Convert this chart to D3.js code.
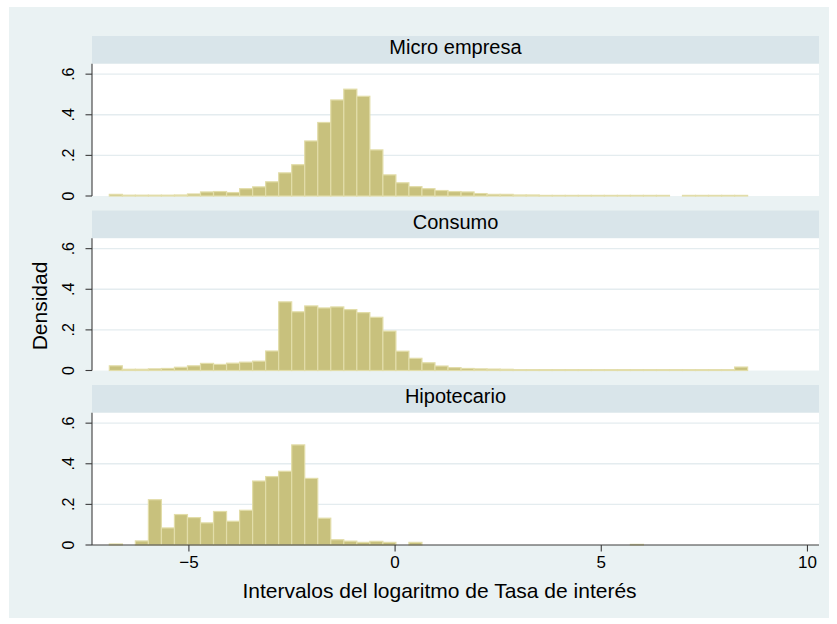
<!DOCTYPE html>
<meta charset="utf-8">
<style>
body { margin: 0; background: #fff; }
text { font-family: "Liberation Sans", Arial, sans-serif; fill: #000; }
.grid { stroke: #e4ecef; stroke-width: 1.3px; }
.bar { fill: #c8c17d; stroke: #e2dda9; stroke-width: 1.2px; }
.axis { stroke: #3c3c3c; stroke-width: 1.1px; fill: none; }
</style>
<body>
<svg id="chart" width="837" height="624"></svg>
<script src="https://d3js.org/d3.v7.min.js"></script>
<script>

// panels (Stata by())
const categories = ["Micro empresa", "Consumo", "Hipotecario"]

// common histogram bins: lower edge of first bin and bin width
const binStart = -6.93
const binWidth = 0.3159

// densities per bin
const microEmpresa = [0.008, 0.004, 0.004, 0.004, 0.004, 0.005, 0.010, 0.020, 0.022, 0.017,
  0.036, 0.045, 0.070, 0.114, 0.154, 0.271, 0.362, 0.473, 0.526, 0.491,
  0.227, 0.104, 0.065, 0.046, 0.036, 0.027, 0.022, 0.020, 0.012, 0.008,
  0.008, 0.005, 0.005, 0.003, 0.003, 0.003, 0.003, 0.003, 0.003, 0.003,
  0.003, 0.003, 0.003, 0, 0.003, 0.003, 0.003, 0.003, 0.003]

const consumo = [0.023, 0.006, 0.006, 0.008, 0.010, 0.016, 0.023, 0.035, 0.030, 0.036,
  0.041, 0.046, 0.096, 0.338, 0.289, 0.318, 0.308, 0.313, 0.300, 0.285,
  0.262, 0.194, 0.095, 0.060, 0.038, 0.022, 0.014, 0.010, 0.008, 0.007,
  0.006, 0.004, 0.004, 0.004, 0.004, 0.004, 0.004, 0.004, 0.004, 0.004,
  0.004, 0.004, 0.004, 0.004, 0.004, 0.004, 0.004, 0.004, 0.017]

const hipotecario = [0.005, 0, 0.020, 0.223, 0.084, 0.150, 0.135, 0.109, 0.165, 0.117,
  0.171, 0.315, 0.337, 0.363, 0.493, 0.328, 0.132, 0.026, 0.019, 0.013,
  0.018, 0.013, 0, 0.013, 0, 0, 0, 0, 0, 0,
  0, 0, 0, 0, 0, 0, 0, 0, 0, 0,
  0.003, 0, 0, 0, 0, 0, 0, 0, 0]

const xTicks = [-5, 0, 5, 10]
const yTicks = [0, 0.2, 0.4, 0.6]
const yTickLabels = ["0", ".2", ".4", ".6"]

const xTitle = "Intervalos del logaritmo de Tasa de interés"
const yTitle = "Densidad"

const series = [microEmpresa, consumo, hipotecario]

const svg = d3.select("#chart")

// outer graph region
svg.append("rect")
  .attr("x", 9).attr("y", 7).attr("width", 820).attr("height", 611)
  .attr("fill", "#eaf2f3")

const left = 92, right = 819
const firstTop = 36, step = 174.5, stripH = 27.8, plotH = 132.2

const x = d3.scaleLinear().domain([-7.35, 10.28]).range([left, right])
const y = d3.scaleLinear().domain([0, 0.651]).range([plotH, 0])

categories.forEach((name, k) => {
  const top = firstTop + k * step
  const g = svg.append("g")

  // strip
  g.append("rect")
    .attr("x", left).attr("y", top)
    .attr("width", right - left).attr("height", stripH)
    .attr("fill", "#d9e5ea")
  g.append("text")
    .attr("x", (left + right) / 2).attr("y", top + 18.3)
    .attr("text-anchor", "middle")
    .style("font-size", "20px")
    .text(name)

  const p = g.append("g").attr("transform", `translate(0,${top + stripH})`)

  p.append("rect")
    .attr("x", left).attr("y", 0)
    .attr("width", right - left).attr("height", plotH)
    .attr("fill", "#fff")

  // grid lines
  p.selectAll(".grid").data(yTicks.slice(1)).join("line")
    .attr("class", "grid")
    .attr("x1", left).attr("x2", right)
    .attr("y1", d => y(d)).attr("y2", d => y(d))

  // bars
  const bins = series[k].map((v, i) => ({x0: binStart + i * binWidth, x1: binStart + (i + 1) * binWidth, v}))
    .filter(d => d.v > 0)
  p.selectAll(".bar").data(bins).join("rect")
    .attr("class", "bar")
    .attr("x", d => x(d.x0))
    .attr("width", d => x(d.x1) - x(d.x0))
    .attr("y", d => y(d.v))
    .attr("height", d => y(0) - y(d.v))

  // y axis
  p.append("line").attr("class", "axis")
    .attr("x1", left).attr("x2", left).attr("y1", 0).attr("y2", plotH)
  p.selectAll(".ytick").data(yTicks).join("line")
    .attr("class", "axis")
    .attr("x1", left - 6.5).attr("x2", left)
    .attr("y1", d => y(d)).attr("y2", d => y(d))
  p.selectAll(".ylab").data(yTicks).join("text")
    .attr("transform", d => `translate(${left - 18},${y(d)}) rotate(-90)`)
    .attr("text-anchor", "middle")
    .style("font-size", "16px")
    .text((d, i) => yTickLabels[i])

  // x axis only under the last panel
  if (k === categories.length - 1) {
    p.append("line").attr("class", "axis")
      .attr("x1", left).attr("x2", right).attr("y1", plotH).attr("y2", plotH)
    p.selectAll(".xtick").data(xTicks).join("line")
      .attr("class", "axis")
      .attr("x1", d => x(d)).attr("x2", d => x(d))
      .attr("y1", plotH).attr("y2", plotH + 6.5)
    p.selectAll(".xlab").data(xTicks).join("text")
      .attr("x", d => x(d)).attr("y", plotH + 23)
      .attr("text-anchor", "middle")
      .style("font-size", "17px")
      .text(d => d3.format("d")(d))
  }
})

// axis titles
svg.append("text")
  .attr("x", (left + right) / 2 - 16).attr("y", 598)
  .attr("text-anchor", "middle")
  .style("font-size", "21px")
  .text(xTitle)

svg.append("text")
  .attr("transform", "translate(47,306) rotate(-90)")
  .attr("text-anchor", "middle")
  .style("font-size", "21px")
  .text(yTitle)

</script>
